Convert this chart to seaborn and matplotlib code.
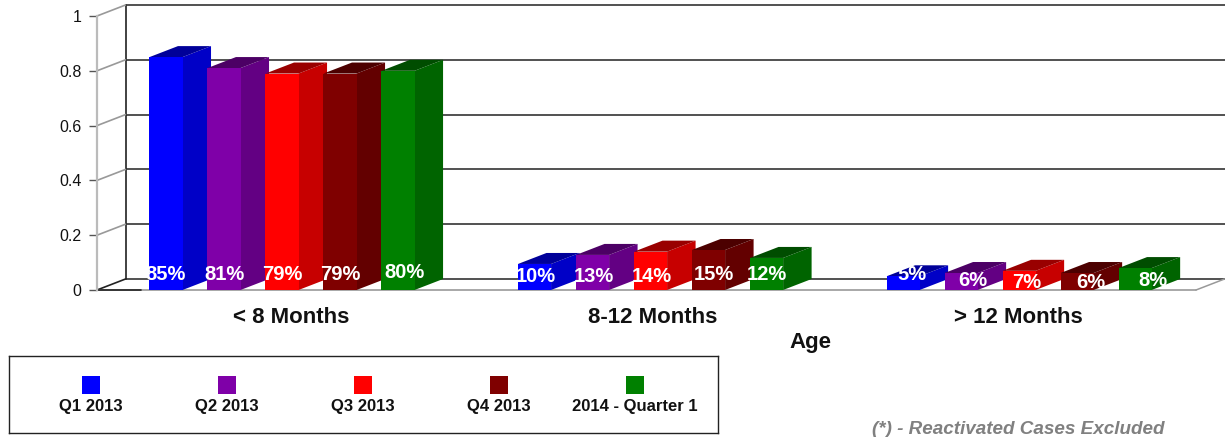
import pandas as pd
import seaborn as sns
from matplotlib import pyplot as plt
from matplotlib.patches import Polygon
from matplotlib.colors import to_rgb
from matplotlib.transforms import ScaledTranslation

ages = ['< 8 Months', '8-12 Months', '> 12 Months']
series = ['Q1 2013', 'Q2 2013', 'Q3 2013', 'Q4 2013', '2014 - Quarter 1']
colors = ['#0000ff', '#7f00a8', '#ff0000', '#7f0000', '#008000']

q1_2013 = [0.85, 0.095, 0.05]
q2_2013 = [0.81, 0.128, 0.062]
q3_2013 = [0.79, 0.14, 0.07]
q4_2013 = [0.79, 0.146, 0.062]
q1_2014 = [0.80, 0.117, 0.08]

label_q1_2013 = ['85%', '10%', '5%']
label_q2_2013 = ['81%', '13%', '6%']
label_q3_2013 = ['79%', '14%', '7%']
label_q4_2013 = ['79%', '15%', '6%']
label_q1_2014 = ['80%', '12%', '8%']

yticks = [0, 0.2, 0.4, 0.6, 0.8, 1]
ytick_labels = ['0', '0.2', '0.4', '0.6', '0.8', '1']

values = [q1_2013, q2_2013, q3_2013, q4_2013, q1_2014]
labels = [label_q1_2013, label_q2_2013, label_q3_2013, label_q4_2013, label_q1_2014]

# label offsets from the foot of each bar, in pixels (the original is uneven)
nudge_x = [[0, 1, 9], [0, 1, 12], [0, 1, 8], [0, 5, 14], [6, 0, 18]]
nudge_y = [[15, 13, 15], [15, 13, 10], [15, 13, 8], [15, 15, 8], [17, 15, 9]]
tick_nudge = [9, 2, -1]

df = pd.DataFrame({
    'age': [a for _ in series for a in ages],
    'series': [s for s in series for _ in ages],
    'value': [v for row in values for v in row],
})

sns.set_style('white')
plt.rcParams['font.family'] = ['Liberation Sans', 'DejaVu Sans']

W, H = 1225, 437
fig = plt.figure(figsize=(W / 100, H / 100), dpi=100)
ax = fig.add_axes([97 / W, 1 - 290 / H, 1099 / W, 274 / H])

sns.barplot(data=df, x='age', y='value', hue='series', order=ages, hue_order=series,
            palette=colors, saturation=1, width=0.787, gap=0.43, legend=False, ax=ax)

xmin, xmax = -0.502, 2.48
ax.set_xlim(xmin, xmax)
ax.set_ylim(0, 1)
dx = 28.5 * (xmax - xmin) / 1099
dy = 11 / 274

# walls and floor of the fake 3d box
xback = xmax + dx
ax.plot([xmin + dx, xmin + dx], [dy, 1 + dy], color='#333333', lw=1.3, clip_on=False, zorder=1)
for t in yticks:
    ax.plot([xmin + dx, xback], [t + dy, t + dy], color='#222222', lw=1.1, clip_on=False, zorder=1)
    ax.plot([xmin, xmin + dx], [t, t + dy], color='#999999' if t else '#222222', lw=1.2,
            clip_on=False, zorder=1)
ax.plot([xmax, xback], [0, dy], color='#999999', lw=1.1, clip_on=False, zorder=1)
ax.plot([xmin, xmax], [0, 0], color='#999999', lw=1.2, clip_on=False, zorder=1)
ax.plot([xmin, xmin + 0.12], [0, 0], color='#222222', lw=1.2, clip_on=False, zorder=1.5)

# side and top of every bar, and the percent labels
for i, cont in enumerate(ax.containers):
    base = to_rgb(colors[i])
    side = tuple(c * 0.78 for c in base)
    top = tuple(c * 0.6 for c in base)
    for j, bar in enumerate(cont):
        x0 = bar.get_x()
        x1 = x0 + bar.get_width()
        h = bar.get_height()
        z = 3 + i * 0.1
        bar.set_zorder(z + 0.02)
        bar.set_linewidth(0)
        ax.add_patch(Polygon([(x1, 0), (x1 + dx, dy), (x1 + dx, h + dy), (x1, h)], closed=True,
                             fc=side, ec='none', zorder=z, clip_on=False))
        ax.add_patch(Polygon([(x0, h), (x1, h), (x1 + dx, h + dy), (x0 + dx, h + dy)], closed=True,
                             fc=top, ec='none', zorder=z, clip_on=False))
        ax.annotate(labels[i][j], xy=((x0 + x1) / 2, 0),
                    xytext=(nudge_x[i][j] * 0.72, nudge_y[i][j] * 0.72), textcoords='offset points',
                    ha='center', va='center', color='white', fontsize=14.5, fontweight='bold',
                    zorder=6, clip_on=False)

ax.set_yticks(yticks)
ax.set_yticklabels(ytick_labels, fontsize=11.5)
ax.tick_params(axis='y', length=6, width=1, color='#555555', pad=5, left=True, labelcolor='#111111')
ax.tick_params(axis='x', length=0, pad=12)
ax.set_xticks(range(len(ages)))
ax.set_xticklabels(ages, fontsize=16, fontweight='bold', color='#111111')
for lab, n in zip(ax.get_xticklabels(), tick_nudge):
    lab.set_transform(lab.get_transform() + ScaledTranslation(n / 100, 0, fig.dpi_scale_trans))
ax.set_ylabel('')
ax.set_xlabel('Age', fontsize=16, fontweight='bold', color='#111111', x=(810 - 97) / 1099, labelpad=3)
for s in ['top', 'right', 'bottom']:
    ax.spines[s].set_visible(False)
ax.spines['left'].set_color('#bbbbbb')
ax.spines['left'].set_linewidth(1.6)
ax.patch.set_alpha(0)

# legend box, swatch above its label
leg = fig.add_axes([9 / W, 1 - 433 / H, 709 / W, 77 / H])
leg.set_xlim(9, 718)
leg.set_ylim(433, 356)
leg.set_xticks([])
leg.set_yticks([])
legend_x = [91, 227, 363, 499, 635]
for x, name, c in zip(legend_x, series, colors):
    leg.scatter([x], [385], marker='s', s=150, color=c, linewidths=0)
    leg.text(x, 406, name, ha='center', va='center', fontsize=12, fontweight='bold', color='#111111')
for s in leg.spines.values():
    s.set_color('#222222')
    s.set_linewidth(1.0)

fig.text(1165 / W, 1 - 430 / H, '(*) - Reactivated Cases Excluded', ha='right', va='center',
         fontsize=13.6, fontweight='bold', style='italic', color='#808080')

plt.savefig('out.png', dpi=100)
plt.close()
